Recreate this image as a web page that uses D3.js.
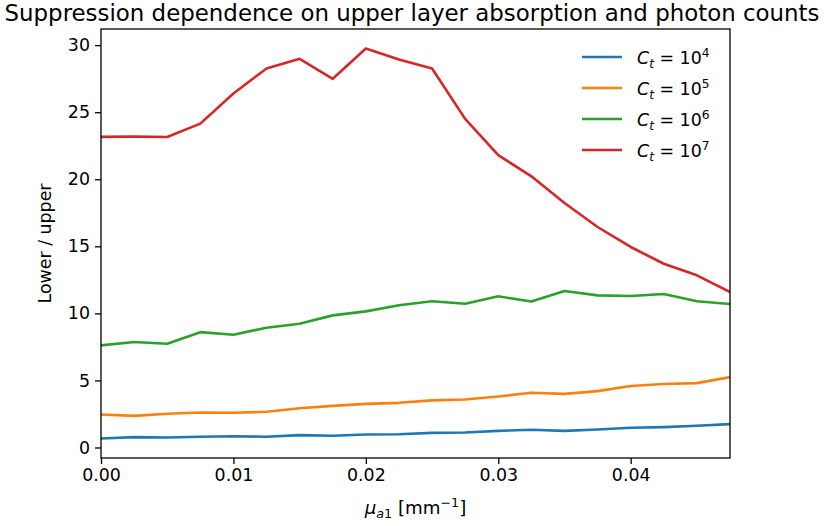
<!DOCTYPE html>
<html>
<head>
<meta charset="utf-8">
<script src="https://cdn.jsdelivr.net/npm/d3@7"></script>
<style>
  html, body { margin: 0; padding: 0; background: #fff; }
  svg { display: block; font-family: "DejaVu Sans", sans-serif; }
</style>
</head>
<body>
<svg id="chart" width="824" height="526"></svg>
<script>
// Upper-layer absorption coefficient μa1 [mm^-1]
const mua1 = [0.0000, 0.0025, 0.0050, 0.0075, 0.0100, 0.0125, 0.0150, 0.0175, 0.0200, 0.0225,
              0.0250, 0.0275, 0.0300, 0.0325, 0.0350, 0.0375, 0.0400, 0.0425, 0.0450, 0.0475];

// Lower / upper suppression ratio for each total photon count
const ct1e4 = [0.67, 0.77, 0.75, 0.80, 0.84, 0.80, 0.92, 0.87, 0.97, 0.99,
               1.09, 1.12, 1.24, 1.32, 1.24, 1.34, 1.47, 1.52, 1.62, 1.74];
const ct1e5 = [2.46, 2.36, 2.51, 2.61, 2.59, 2.66, 2.93, 3.10, 3.25, 3.33,
               3.51, 3.58, 3.80, 4.08, 4.00, 4.20, 4.58, 4.73, 4.80, 5.25];
const ct1e6 = [7.61, 7.86, 7.74, 8.60, 8.41, 8.93, 9.23, 9.85, 10.15, 10.60,
               10.90, 10.72, 11.27, 10.88, 11.67, 11.34, 11.29, 11.44, 10.90, 10.70];
const ct1e7 = [23.16, 23.18, 23.15, 24.15, 26.40, 28.26, 28.98, 27.49, 29.75, 28.93,
               28.26, 24.50, 21.80, 20.22, 18.23, 16.44, 14.95, 13.70, 12.84, 11.59];

const exponents = ["4", "5", "6", "7"];
const colors = ["#1f77b4", "#ff7f0e", "#2ca02c", "#d62728"];
const xTicks = [0.00, 0.01, 0.02, 0.03, 0.04];
const yTicks = [0, 5, 10, 15, 20, 25, 30];

const seriesList = [ct1e4, ct1e5, ct1e6, ct1e7].map((vals, i) => ({
  exp: exponents[i], color: colors[i],
  points: vals.map((v, j) => ({ x: mua1[j], y: v }))
}));

const W = 824, H = 526;
const margin = { top: 29, right: 94, bottom: 68, left: 101 };
const iw = W - margin.left - margin.right;
const ih = H - margin.top - margin.bottom;
const FS = 17.4;

const svg = d3.select("#chart");
const g = svg.append("g").attr("transform", `translate(${margin.left},${margin.top})`);

// y limits padded by 5% of the data span
const allY = seriesList.flatMap(s => s.points.map(p => p.y));
const yMin = d3.min(allY), yMax = d3.max(allY), pad = 0.05 * (yMax - yMin);

const x = d3.scaleLinear().domain([0, 0.0475]).range([0, iw]);
const y = d3.scaleLinear().domain([yMin - pad, yMax + pad]).range([ih, 0]);

const line = d3.line().x(d => x(d.x)).y(d => y(d.y));

// clip series to the axes box
g.append("clipPath").attr("id", "clip")
  .append("rect").attr("width", iw).attr("height", ih);

g.append("g").attr("clip-path", "url(#clip)")
  .selectAll("path.series")
  .data(seriesList)
  .join("path")
  .attr("class", "series")
  .attr("fill", "none")
  .attr("stroke", d => d.color)
  .attr("stroke-width", 2.6)
  .attr("stroke-linejoin", "round")
  .attr("stroke-linecap", "square")
  .attr("d", d => line(d.points));

// axes
const xAxis = g.append("g").attr("transform", `translate(0,${ih})`)
  .call(d3.axisBottom(x).tickValues(xTicks).tickFormat(d3.format(".2f")).tickSizeOuter(0).tickSize(6).tickPadding(5));
const yAxis = g.append("g")
  .call(d3.axisLeft(y).tickValues(yTicks).tickFormat(d3.format("d")).tickSizeOuter(0).tickSize(6).tickPadding(5));

[xAxis, yAxis].forEach(a => {
  a.select(".domain").remove();
  a.selectAll(".tick line").attr("stroke", "#000").attr("stroke-width", 1.3);
  a.selectAll(".tick text").attr("fill", "#000").style("font-size", FS + "px")
    .style("font-family", "DejaVu Sans");
});

// frame
g.append("rect").attr("width", iw).attr("height", ih)
  .attr("fill", "none").attr("stroke", "#000").attr("stroke-width", 1.3);

// title
svg.append("text")
  .attr("x", 412).attr("y", 21)
  .attr("text-anchor", "middle")
  .style("font-size", "22.9px")
  .text("Suppression dependence on upper layer absorption and photon counts");

// x label: μ_a1 [mm^-1]
const xl = svg.append("text")
  .attr("x", margin.left + iw / 2).attr("y", 514)
  .attr("text-anchor", "middle")
  .style("font-size", "18.2px");
xl.append("tspan").style("font-style", "italic").text("μ");
xl.append("tspan").attr("dy", 4).style("font-size", (18.2 * 0.7) + "px").style("font-style", "italic").text("a");
xl.append("tspan").style("font-size", (18.2 * 0.7) + "px").text("1");
xl.append("tspan").attr("dy", -4).text(" [mm");
xl.append("tspan").attr("dy", -7).style("font-size", (18.2 * 0.7) + "px").text("−1");
xl.append("tspan").attr("dy", 7).text("]");

// y label
svg.append("text")
  .attr("transform", `translate(51,${margin.top + ih / 2}) rotate(-90)`)
  .attr("text-anchor", "middle")
  .style("font-size", FS + "px")
  .text("Lower / upper");

// legend
const leg = svg.append("g").attr("transform", "translate(582,57)");
const item = leg.selectAll("g").data(seriesList).join("g")
  .attr("transform", (d, i) => `translate(0,${i * 31})`);
item.append("line").attr("x1", 0).attr("x2", 40)
  .attr("stroke", d => d.color).attr("stroke-width", 2.6);
const lt = item.append("text").attr("x", 55).attr("y", 6.5).style("font-size", FS + "px");
lt.append("tspan").style("font-style", "italic").text("C");
lt.append("tspan").attr("dy", 4).style("font-style", "italic").style("font-size", (FS * 0.7) + "px").text("t");
lt.append("tspan").attr("dy", -4).text(" = 10");
lt.append("tspan").attr("dy", -7).style("font-size", (FS * 0.7) + "px").text(d => d.exp);
</script>
</body>
</html>
